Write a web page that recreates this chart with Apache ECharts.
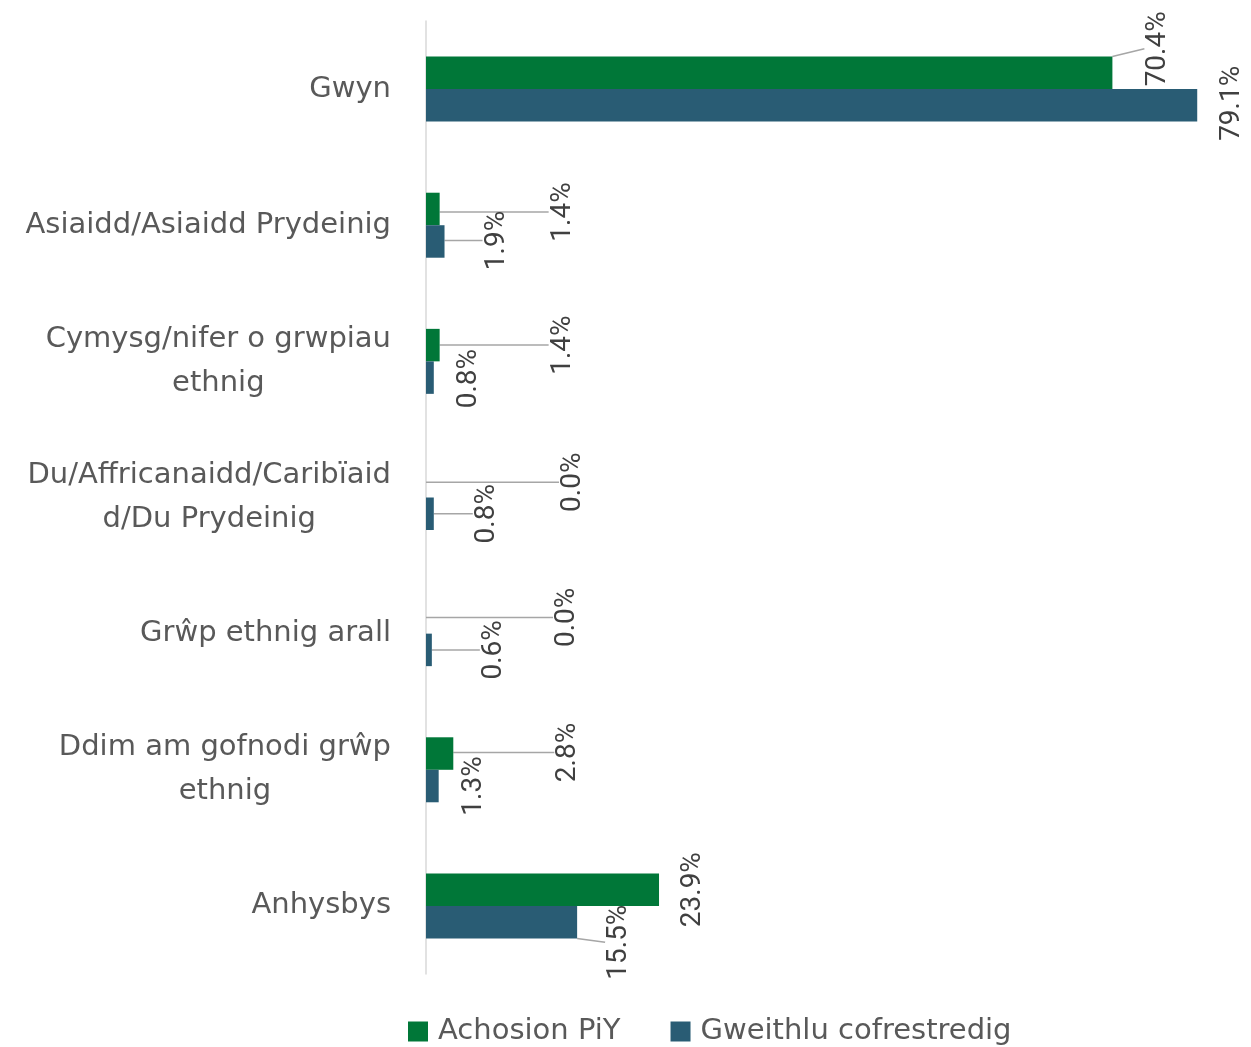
<!DOCTYPE html>
<html>
<head>
<meta charset="utf-8">
<script src="https://cdn.jsdelivr.net/npm/echarts@6/dist/echarts.min.js"></script>
<style>
html,body{margin:0;padding:0;background:#fff;}
#chart{width:1251px;height:1047px;}
</style>
</head>
<body>
<div id="chart"></div>
<script>
var categories = [
  'Gwyn',
  'Asiaidd/Asiaidd Prydeinig',
  'Cymysg/nifer o grwpiau\nethnig',
  'Du/Affricanaidd/Caribïaid\nd/Du Prydeinig',
  'Grŵp ethnig arall',
  'Ddim am gofnodi grŵp\nethnig',
  'Anhysbys'
];
var seriesNames = ['Achosion PiY', 'Gweithlu cofrestredig'];
var achosionPiY = [70.4, 1.4, 1.4, 0.0, 0.0, 2.8, 23.9];
var gweithlu = [79.1, 1.9, 0.8, 0.8, 0.6, 1.3, 15.5];

// label placement (style): offset from bar end / bar centre, and whether a leader line shows
var labelOffsetsGreen = [[46,-24],[123,3],[123,0],[147,1],[141,0],[115,-1],[34,0]];
var labelOffsetsBlue  = [[35,-2],[52,-1],[35,1],[53,0],[62,0],[35,0],[42,20]];
var leaderGreen = [true, true, true, true, true, true, false];
var leaderBlue  = [false, true, false, true, true, false, true];

var offsets = [labelOffsetsGreen, labelOffsetsBlue];

function items(vals, leaders) {
  return vals.map(function (v, i) {
    return { value: v, labelLine: { show: leaders[i] } };
  });
}

var chart = echarts.init(document.getElementById('chart'));

var labelCfg = {
  show: true,
  rotate: 90,
  fontFamily: 'Roboto',
  fontSize: 28,
  color: '#404040',
  formatter: function (p) { return p.value.toFixed(1) + '%'; }
};

function layoutFn(p) {
  var off = offsets[p.seriesIndex][p.dataIndex];
  return {
    x: p.rect.x + p.rect.width + off[0],
    y: p.rect.y + p.rect.height / 2 + off[1],
    align: 'center',
    verticalAlign: 'middle'
  };
}

var lineCfg = { show: true, lineStyle: { color: '#a6a6a6', width: 1.5 } };

chart.setOption({
  animation: false,
  grid: { left: 426, right: 45, top: 21, bottom: 73, containLabel: false },
  legend: {
    top: 1012,
    left: 403,
    itemWidth: 20,
    itemHeight: 20,
    itemGap: 50,
    icon: 'rect',
    textStyle: { fontFamily: 'DejaVu Sans', fontSize: 29, color: '#595959', padding: [0, 0, 0, 5] },
    data: seriesNames
  },
  xAxis: {
    type: 'value', min: 0, max: 80,
    show: false,
    splitLine: { show: false }
  },
  yAxis: {
    type: 'category',
    inverse: true,
    data: categories,
    axisTick: { show: false },
    axisLine: { show: true, lineStyle: { color: '#d9d9d9', width: 1.5 } },
    axisLabel: {
      margin: 35,
      formatter: function (v) {
        return v.split('\n').map(function (l) { return '{c|' + l + '}'; }).join('\n');
      },
      rich: {
        c: { align: 'center', fontFamily: 'DejaVu Sans', fontSize: 29, color: '#595959', lineHeight: 44 }
      }
    }
  },
  series: [
    {
      name: seriesNames[0], type: 'bar', barWidth: 32.5, barGap: '0%',
      itemStyle: { color: '#007738' },
      data: items(achosionPiY, leaderGreen),
      label: labelCfg, labelLayout: layoutFn, labelLine: lineCfg
    },
    {
      name: seriesNames[1], type: 'bar', barWidth: 32.5, barGap: '0%',
      itemStyle: { color: '#295C74' },
      data: items(gweithlu, leaderBlue),
      label: labelCfg, labelLayout: layoutFn, labelLine: lineCfg
    }
  ]
});
</script>
</body>
</html>
